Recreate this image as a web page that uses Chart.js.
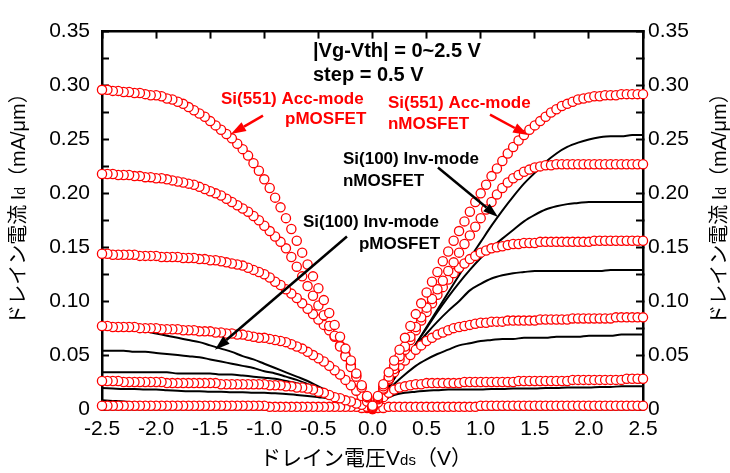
<!DOCTYPE html>
<html>
<head>
<meta charset="utf-8">
<script src="https://cdn.jsdelivr.net/npm/chart.js@4.4.1/dist/chart.umd.min.js"></script>
<style>
  body { margin: 0; background: #fff; }
  canvas { display: block; }
</style>
</head>
<body>
<canvas id="chart" width="730" height="473"></canvas>
<script>
// Vds sample points (V), abs value; pMOS curves are drawn at -Vds
const vds = [0,0.05,0.1,0.15,0.2,0.25,0.3,0.35,0.4,0.45,0.5,0.55,0.6,0.65,0.7,0.75,0.8,0.85,0.9,0.95,
  1.0,1.05,1.1,1.15,1.2,1.25,1.3,1.35,1.4,1.45,1.5,1.55,1.6,1.65,1.7,1.75,1.8,1.85,1.9,1.95,
  2.0,2.05,2.1,2.15,2.2,2.25,2.3,2.35,2.4,2.45,2.5];
const vdsLine = [0,0.1,0.2,0.3,0.4,0.5,0.6,0.7,0.8,0.9,1.0,1.1,1.2,1.3,1.4,1.5,1.6,1.7,1.8,1.9,2.0,2.1,2.2,2.3,2.4,2.5];

// Si(551) Acc-mode nMOSFET, Id (mA/um), |Vg-Vth| = 2.5 ... 0 V
const accN25 = [0.003,0.012,0.023,0.034,0.045,0.055,0.066,0.077,0.088,0.098,
  0.108,0.118,0.127,0.137,0.146,0.156,0.165,0.174,0.183,0.192,
  0.200,0.208,0.216,0.223,0.230,0.237,0.243,0.249,0.254,0.259,
  0.263,0.267,0.271,0.275,0.278,0.281,0.283,0.285,0.287,0.288,
  0.289,0.290,0.290,0.291,0.291,0.291,0.292,0.292,0.292,0.292,0.292];
const accN20 = [0.002,0.011,0.021,0.030,0.040,0.049,0.058,0.067,0.076,0.085,
  0.094,0.102,0.111,0.119,0.128,0.136,0.145,0.153,0.161,0.169,
  0.177,0.185,0.192,0.199,0.205,0.210,0.214,0.217,0.220,0.222,
  0.224,0.225,0.226,0.226,0.227,0.227,0.227,0.227,0.227,0.227,
  0.227,0.227,0.227,0.227,0.227,0.227,0.227,0.227,0.227,0.227,0.227];
const accN15 = [0.002,0.010,0.019,0.028,0.037,0.046,0.055,0.064,0.073,0.082,
  0.090,0.098,0.106,0.113,0.120,0.126,0.131,0.135,0.139,0.142,
  0.145,0.147,0.149,0.150,0.151,0.152,0.153,0.153,0.154,0.154,
  0.154,0.155,0.155,0.155,0.155,0.155,0.155,0.155,0.155,0.155,
  0.155,0.156,0.156,0.156,0.156,0.156,0.156,0.156,0.156,0.156,0.156];
const accN10 = [0.001,0.009,0.018,0.027,0.034,0.040,0.045,0.050,0.055,0.059,
  0.063,0.066,0.069,0.071,0.073,0.075,0.076,0.077,0.078,0.079,
  0.080,0.080,0.081,0.081,0.081,0.082,0.082,0.082,0.082,0.082,
  0.082,0.083,0.083,0.083,0.083,0.083,0.083,0.084,0.084,0.084,
  0.084,0.084,0.084,0.084,0.084,0.085,0.085,0.085,0.085,0.085,0.085];
const accN05 = [0.001,0.006,0.011,0.015,0.018,0.020,0.021,0.022,0.023,0.023,
  0.024,0.024,0.024,0.024,0.024,0.024,0.024,0.025,0.025,0.025,
  0.025,0.025,0.025,0.025,0.025,0.025,0.025,0.026,0.026,0.026,
  0.026,0.026,0.026,0.026,0.026,0.026,0.026,0.027,0.027,0.027,
  0.027,0.027,0.027,0.027,0.027,0.027,0.027,0.028,0.028,0.028,0.028];
const accN00 = [0.000,0.001,0.001,0.002,0.002,0.002,0.002,0.002,0.002,0.002,
  0.002,0.002,0.002,0.002,0.002,0.002,0.002,0.002,0.002,0.002,
  0.003,0.003,0.003,0.003,0.003,0.003,0.003,0.003,0.003,0.003,
  0.003,0.003,0.003,0.003,0.003,0.003,0.003,0.003,0.003,0.003,
  0.003,0.003,0.003,0.003,0.003,0.003,0.003,0.003,0.003,0.003,0.003];

// Si(551) Acc-mode pMOSFET, |Id| vs |Vds|
const accP25 = [0.003,0.012,0.022,0.033,0.045,0.056,0.067,0.078,0.089,0.101,
  0.112,0.123,0.134,0.145,0.156,0.167,0.177,0.187,0.196,0.205,
  0.213,0.221,0.228,0.235,0.241,0.246,0.251,0.255,0.259,0.263,
  0.267,0.271,0.274,0.277,0.280,0.283,0.285,0.287,0.288,0.290,
  0.291,0.291,0.292,0.293,0.293,0.294,0.294,0.295,0.295,0.296,0.296];
const accP20 = [0.002,0.011,0.020,0.030,0.039,0.049,0.058,0.068,0.077,0.087,
  0.096,0.105,0.114,0.123,0.132,0.141,0.149,0.155,0.160,0.165,
  0.170,0.175,0.179,0.183,0.186,0.189,0.192,0.195,0.198,0.200,
  0.202,0.204,0.206,0.208,0.209,0.210,0.211,0.212,0.213,0.214,
  0.214,0.215,0.215,0.216,0.216,0.217,0.217,0.217,0.218,0.218,0.218];
const accP15 = [0.002,0.011,0.021,0.031,0.041,0.050,0.059,0.067,0.073,0.078,
  0.083,0.088,0.093,0.098,0.103,0.107,0.111,0.115,0.118,0.122,
  0.125,0.127,0.129,0.131,0.133,0.134,0.135,0.136,0.137,0.138,
  0.138,0.139,0.139,0.140,0.140,0.140,0.141,0.141,0.141,0.141,
  0.142,0.142,0.142,0.142,0.143,0.143,0.143,0.143,0.143,0.144,0.144];
const accP10 = [0.002,0.007,0.012,0.017,0.022,0.027,0.032,0.036,0.040,0.044,
  0.047,0.050,0.053,0.056,0.058,0.060,0.062,0.063,0.064,0.065,
  0.066,0.066,0.067,0.068,0.069,0.069,0.070,0.070,0.071,0.071,
  0.072,0.072,0.072,0.073,0.073,0.073,0.074,0.074,0.074,0.074,
  0.075,0.075,0.075,0.075,0.076,0.076,0.076,0.076,0.076,0.077,0.077];
const accP05 = [0.001,0.002,0.004,0.005,0.007,0.008,0.010,0.011,0.013,0.015,
  0.016,0.018,0.019,0.020,0.020,0.021,0.021,0.022,0.022,0.022,
  0.023,0.023,0.023,0.023,0.023,0.023,0.023,0.023,0.023,0.024,
  0.024,0.024,0.024,0.024,0.024,0.024,0.024,0.024,0.024,0.025,
  0.025,0.025,0.025,0.025,0.025,0.025,0.025,0.026,0.026,0.026,0.026];
const accP00 = [0.000,0.001,0.001,0.002,0.002,0.002,0.002,0.002,0.002,0.002,
  0.002,0.002,0.002,0.002,0.002,0.002,0.002,0.002,0.002,0.002,
  0.003,0.003,0.003,0.003,0.003,0.003,0.003,0.003,0.003,0.003,
  0.003,0.003,0.003,0.003,0.003,0.003,0.003,0.003,0.003,0.003,
  0.003,0.003,0.003,0.003,0.003,0.003,0.003,0.003,0.003,0.003,0.003];

// Si(100) Inv-mode nMOSFET (black lines)
const invN25 = [0,0.012,0.028,0.044,0.060,0.076,0.092,0.108,0.124,0.140,0.155,0.170,0.184,0.197,0.209,0.219,0.229,0.237,0.243,0.247,0.250,0.252,0.253,0.253,0.254,0.254];
const invN20 = [0,0.012,0.028,0.044,0.060,0.075,0.090,0.104,0.117,0.129,0.140,0.150,0.158,0.166,0.174,0.180,0.185,0.188,0.190,0.191,0.192,0.192,0.192,0.192,0.192,0.192];
const invN15 = [0,0.014,0.030,0.045,0.058,0.070,0.081,0.091,0.100,0.110,0.116,0.121,0.124,0.126,0.127,0.128,0.128,0.128,0.128,0.128,0.128,0.128,0.129,0.129,0.129,0.129];
const invN10 = [0,0.012,0.023,0.032,0.040,0.046,0.051,0.055,0.059,0.061,0.063,0.064,0.065,0.065,0.066,0.066,0.066,0.067,0.067,0.067,0.068,0.068,0.068,0.069,0.069,0.069];
const invN05 = [0,0.008,0.013,0.015,0.016,0.017,0.0175,0.018,0.018,0.018,0.018,0.0185,0.0185,0.019,0.019,0.019,0.0195,0.0195,0.020,0.020,0.020,0.0205,0.0205,0.021,0.021,0.021];

// Si(100) Inv-mode pMOSFET (black lines)
const invP25 = [0,0.002,0.006,0.011,0.016,0.021,0.026,0.030,0.034,0.038,0.042,0.046,0.049,0.053,0.056,0.059,0.062,0.064,0.066,0.068,0.070,0.072,0.073,0.074,0.075,0.076];
const invP20 = [0,0.002,0.006,0.010,0.015,0.019,0.023,0.027,0.030,0.033,0.035,0.038,0.040,0.042,0.044,0.046,0.048,0.049,0.050,0.051,0.052,0.053,0.053,0.054,0.054,0.054];
const invP15 = [0,0.003,0.007,0.011,0.014,0.018,0.021,0.024,0.026,0.028,0.029,0.030,0.031,0.032,0.032,0.033,0.033,0.033,0.033,0.034,0.034,0.034,0.034,0.034,0.034,0.034];
const invP10 = [0,0.003,0.005,0.008,0.010,0.011,0.012,0.013,0.014,0.0145,0.015,0.015,0.0155,0.0155,0.016,0.016,0.0165,0.0165,0.017,0.0175,0.018,0.018,0.0185,0.0185,0.019,0.0195];
const invP05 = [0,0,0,0,0.0005,0.0005,0.0005,0.001,0.001,0.001,0.001,0.001,0.0015,0.0015,0.0015,0.002,0.002,0.0025,0.003,0.0035,0.0045,0.005,0.006,0.007,0.0075,0.008];

const xTickLabels = ['-2.5','-2.0','-1.5','-1.0','-0.5','0.0','0.5','1.0','1.5','2.0','2.5'];
const yTickLabels = ['0','0.05','0.10','0.15','0.20','0.25','0.30','0.35'];

const RED = '#ff0000';
const LATIN = '"Liberation Sans", Arial, sans-serif';
const CJK = '"Noto Sans CJK JP", sans-serif';

function pts(xs, ys, sign) {
    return xs.map((v, i) => ({ x: sign * v, y: ys[i] }));
}

const datasets = [];
[accN25, accN20, accN15, accN10, accN05, accN00].forEach(d => datasets.push({ data: pts(vds, d, 1), red: true }));
[accP25, accP20, accP15, accP10, accP05, accP00].forEach(d => datasets.push({ data: pts(vds, d, -1), red: true }));
[invN25, invN20, invN15, invN10, invN05].forEach(d => datasets.push({ data: pts(vdsLine, d, 1) }));
[invP25, invP20, invP15, invP10, invP05].forEach(d => datasets.push({ data: pts(vdsLine, d, -1) }));

datasets.forEach(ds => {
    if (ds.red) {
        Object.assign(ds, {
            showLine: false,
            pointStyle: 'circle',
            pointRadius: 4.6,
            pointBorderWidth: 1.3,
            pointBorderColor: RED,
            pointBackgroundColor: '#fff',
            clip: false
        });
    } else {
        Object.assign(ds, {
            showLine: true,
            borderColor: '#000',
            borderWidth: 2,
            pointRadius: 0,
            cubicInterpolationMode: 'monotone'
        });
    }
});

// annotation texts and arrows, anchored in data units
const notes = [
    { text: '|Vg-Vth| = 0~2.5 V', x: -0.55, y: 0.326, color: '#000', size: 20 },
    { text: 'step = 0.5 V', x: -0.55, y: 0.304, color: '#000', size: 20 },
    { text: 'Si(551) Acc-mode', x: -1.400, y: 0.283, color: RED, size: 17 },
    { text: 'pMOSFET', x: -0.808, y: 0.264, color: RED, size: 17 },
    { text: 'Si(551) Acc-mode', x: 0.143, y: 0.279, color: RED, size: 17 },
    { text: 'nMOSFET', x: 0.143, y: 0.260, color: RED, size: 17 },
    { text: 'Si(100) Inv-mode', x: -0.273, y: 0.227, color: '#000', size: 17 },
    { text: 'nMOSFET', x: -0.273, y: 0.207, color: '#000', size: 17 },
    { text: 'Si(100) Inv-mode', x: -0.643, y: 0.169, color: '#000', size: 17 },
    { text: 'pMOSFET', x: -0.125, y: 0.148, color: '#000', size: 17 }
];
const arrows = [
    { x1: -1.012, y1: 0.272, x2: -1.308, y2: 0.255, color: RED },
    { x1: 1.086, y1: 0.273, x2: 1.437, y2: 0.254, color: RED },
    { x1: 0.605, y1: 0.224, x2: 1.160, y2: 0.178, color: '#000' },
    { x1: -0.236, y1: 0.160, x2: -1.456, y2: 0.055, color: '#000' }
];

function drawArrow(ctx, x1, y1, x2, y2, color) {
    const a = Math.atan2(y2 - y1, x2 - x1);
    const len = 15, half = 5;
    const bx = x2 - len * Math.cos(a), by = y2 - len * Math.sin(a);
    ctx.save();
    ctx.strokeStyle = color;
    ctx.fillStyle = color;
    ctx.lineWidth = 2.5;
    ctx.beginPath();
    ctx.moveTo(x1, y1);
    ctx.lineTo(bx, by);
    ctx.stroke();
    ctx.beginPath();
    ctx.moveTo(x2, y2);
    ctx.lineTo(bx + half * Math.sin(a), by - half * Math.cos(a));
    ctx.lineTo(bx - half * Math.sin(a), by + half * Math.cos(a));
    ctx.closePath();
    ctx.fill();
    ctx.restore();
}

// draws a run of text pieces (with subscripts) centred at cx, cy
function drawRun(ctx, parts, cx, cy, rot) {
    ctx.save();
    ctx.translate(cx, cy);
    ctx.rotate(rot);
    ctx.fillStyle = '#000';
    ctx.textBaseline = 'alphabetic';
    ctx.textAlign = 'left';
    let total = 0;
    parts.forEach(p => { ctx.font = p.font; p.w = ctx.measureText(p.t).width; total += p.w; });
    let x = -total / 2;
    parts.forEach(p => {
        ctx.font = p.font;
        ctx.fillText(p.t, x, 7);
        x += p.w;
    });
    ctx.restore();
}

const yTitle = [
    { t: 'ドレイン電流 ', font: '20px ' + CJK },
    { t: 'I', font: '20px ' + LATIN },
    { t: 'd', font: '14px ' + LATIN },
    { t: '（', font: '20px ' + CJK },
    { t: 'mA/μm', font: '20px ' + LATIN },
    { t: '）', font: '20px ' + CJK }
];
const xTitle = [
    { t: 'ドレイン電圧', font: '21px ' + CJK },
    { t: 'V', font: '21px ' + LATIN },
    { t: 'ds', font: '15px ' + LATIN },
    { t: '（', font: '21px ' + CJK },
    { t: 'V', font: '21px ' + LATIN },
    { t: '）', font: '21px ' + CJK }
];

const annotate = {
    id: 'annotate',
    afterDraw(chart) {
        const ctx = chart.ctx;
        const xs = chart.scales.x, ys = chart.scales.y;
        notes.forEach(n => {
            ctx.save();
            ctx.font = 'bold ' + n.size + 'px ' + LATIN;
            ctx.fillStyle = n.color;
            ctx.textBaseline = 'alphabetic';
            ctx.fillText(n.text, xs.getPixelForValue(n.x), ys.getPixelForValue(n.y));
            ctx.restore();
        });
        arrows.forEach(a => drawArrow(ctx,
            xs.getPixelForValue(a.x1), ys.getPixelForValue(a.y1),
            xs.getPixelForValue(a.x2), ys.getPixelForValue(a.y2), a.color));
        drawRun(ctx, yTitle, 18, 204, -Math.PI / 2);
        drawRun(ctx, yTitle, 719, 204, -Math.PI / 2);
        drawRun(ctx, xTitle, 366, 458, 0);
    }
};

const axisLine = { color: '#000', width: 2.5 };
const tickGrid = { drawOnChartArea: false, tickLength: -7, tickWidth: 2, tickColor: '#000' };
const tickFont = { family: LATIN, size: 21 };

new Chart(document.getElementById('chart').getContext('2d'), {
    type: 'scatter',
    data: { datasets },
    options: {
        responsive: false,
        animation: false,
        layout: { padding: 0 },
        plugins: { legend: { display: false }, tooltip: { enabled: false } },
        scales: {
            x: {
                type: 'linear', position: 'bottom', min: -2.5, max: 2.5,
                grid: tickGrid, border: axisLine,
                ticks: { stepSize: 0.5, autoSkip: false, maxRotation: 0, color: '#000', font: tickFont, padding: 15,
                    callback: (v, i) => xTickLabels[i] },
                afterFit: s => { s.height = 64; }
            },
            x2: {
                type: 'linear', position: 'top', min: -2.5, max: 2.5,
                grid: tickGrid, border: axisLine,
                ticks: { stepSize: 0.5, display: false },
                afterFit: s => { s.height = 14; }
            },
            y: {
                type: 'linear', position: 'left', min: 0, max: 0.35,
                grid: tickGrid, border: axisLine,
                ticks: { stepSize: 0.025, autoSkip: false, color: '#000', font: tickFont, padding: 19,
                    callback: (v, i) => (i % 2 ? '' : yTickLabels[i / 2]) },
                afterFit: s => { s.width = 102; }
            },
            y2: {
                type: 'linear', position: 'right', min: 0, max: 0.35,
                grid: tickGrid, border: axisLine,
                ticks: { stepSize: 0.025, autoSkip: false, color: '#000', font: tickFont, padding: 12,
                    callback: (v, i) => (i % 2 ? '' : yTickLabels[i / 2]) },
                afterFit: s => { s.width = 87; }
            }
        }
    },
    plugins: [annotate]
});
</script>
</body>
</html>
